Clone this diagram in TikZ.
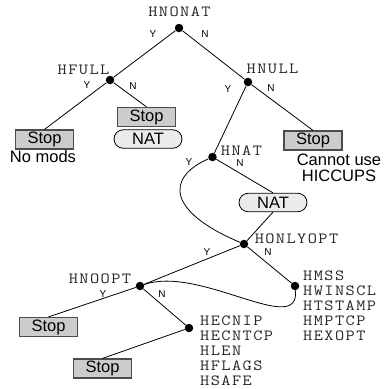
\documentclass[tikz,border=0pt]{standalone}
\usepackage{fontspec}
\usepackage{graphicx}
\setmainfont{Liberation Sans}
\usetikzlibrary{shapes.misc}
% typewriter flag names: slightly widened glyphs with extra room between the letters
\def\spaced#1{\scalebox{1.15}[1]{\spacedfirst#1\relax}}
\def\spacedfirst#1{#1\spacedrest}
\def\spacedrest#1{\ifx#1\relax\else\kern1.25pt#1\expandafter\spacedrest\fi}
\begin{document}
\begin{tikzpicture}[x=1pt,y=-1pt,
  decision/.style={circle,fill=black,inner sep=0pt,minimum size=8.5pt},
  flag/.style={font={\ttfamily\fontsize{15.5}{15}\selectfont},
    text=black!85,inner sep=0pt},
  flaglist/.style={flag,align=left,anchor=north west},
  stopbox/.style={draw=black!70,line width=1.2pt,fill=black!20,minimum width=58pt,
    minimum height=19pt,inner sep=0pt,font=\fontsize{16.5}{18}\selectfont},
  natbox/.style={rounded rectangle,draw=black,line width=0.8pt,fill=black!8,
    minimum width=68pt,minimum height=18.5pt,inner sep=0pt,font=\fontsize{16.5}{18}\selectfont},
  note/.style={font=\fontsize{16.5}{16}\selectfont,align=center,inner sep=0pt},
  yn/.style={font=\fontsize{10}{12}\selectfont,inner sep=0pt},
  link/.style={line width=0.8pt}]
\useasboundingbox (0,0) rectangle (385,389);

% decision points
\node[decision] (hnonat)   at (179,28)  {};
\node[decision] (hfull)    at (110,80)  {};
\node[decision] (hnull)    at (248,82)  {};
\node[decision] (hnat)     at (212.5,157) {};
\node[decision] (honlyopt) at (244,244) {};
\node[decision] (hnoopt)   at (140,286) {};
\node[decision] (hmss)     at (295,286) {};
\node[decision] (hecnip)   at (189,328) {};

% flag names
\node[flag] (lhnonat)   at (179.5,12)  {\spaced{HNONAT}};
\node[flag] (lhfull)    at (83.5,70)   {\spaced{HFULL}};
\node[flag] (lhnull)    at (272.5,69)  {\spaced{HNULL}};
\node[flag] (lhnat)     at (241.5,151) {\spaced{HNAT}};
\node[flag] (lhonlyopt) at (296.5,238.5) {\spaced{HONLYOPT}};
\node[flag] (lhnoopt)   at (100,278.5) {\spaced{HNOOPT}};
\node[flaglist] (lhmss)   at (303,270.5)
  {\spaced{HMSS}\\\spaced{HWINSCL}\\\spaced{HTSTAMP}\\\spaced{HMPTCP}\\\spaced{HEXOPT}};
\node[flaglist] (lhecnip) at (200,316)
  {\spaced{HECNIP}\\\spaced{HECNTCP}\\\spaced{HLEN}\\\spaced{HFLAGS}\\\spaced{HSAFE}};

% outcomes
\node[stopbox] (stop1) at (44.5,139.5) {Stop};
\node[stopbox] (stop2) at (146.5,117)  {Stop};
\node[stopbox] (stop3) at (313,140.5)  {Stop};
\node[stopbox] (stop4) at (48.5,327)   {Stop};
\node[stopbox] (stop5) at (102.5,368.5) {Stop};
\node[natbox] (nat1) at (148,139)   {NAT};
\node[natbox] (nat2) at (273,202.5) {NAT};
\node[note] (nomods) at (43,156.5) {No mods};
\node[note] (cannot) at (339,168) {Cannot use\\HICCUPS};

% branches
\draw[link] (hnonat) -- (hfull);
\draw[link] (hnonat) -- (hnull);
\draw[link] (hfull) -- (stop1.north);
\draw[link] (hfull) -- (stop2.north);
\draw[link] (hnull) -- (hnat);
\draw[link] (hnull) -- (stop3.north);
\draw[link] (hnat) .. controls (165,178) and (168,212) .. (honlyopt);
\draw[link] (hnat) -- (nat2.north);
\draw[link] (nat2.south) -- (honlyopt);
\draw[link] (honlyopt) -- (hnoopt);
\draw[link] (honlyopt) -- (hmss);
\draw[link] (hnoopt) .. controls (200,265) and (300,338) .. (hmss);
\draw[link] (hnoopt) -- (stop4.north);
\draw[link] (hnoopt) -- (hecnip);
\draw[link] (hecnip) -- (stop5.north);

% branch labels
\node[yn] (y1) at (153,34)  {Y};
\node[yn] (n1) at (205,34)  {N};
\node[yn] (y2) at (87,85)   {Y};
\node[yn] (n2) at (133,86)  {N};
\node[yn] (y3) at (228,89)  {Y};
\node[yn] (n3) at (271,88)  {N};
\node[yn] (y4) at (189,162) {Y};
\node[yn] (n4) at (240,163) {N};
\node[yn] (y5) at (207,252) {Y};
\node[yn] (n5) at (268,252) {N};
\node[yn] (y6) at (103,294) {Y};
\node[yn] (n6) at (162,294) {N};
\end{tikzpicture}
\end{document}
